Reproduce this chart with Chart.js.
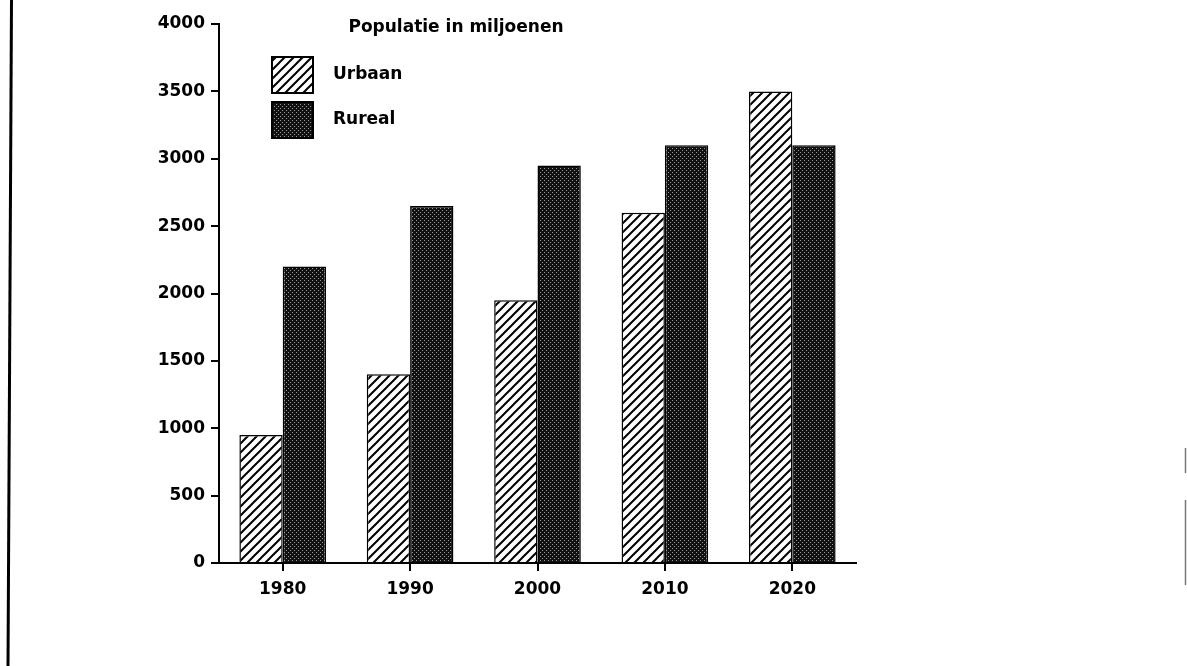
<!DOCTYPE html>
<html>
<head>
<meta charset="utf-8">
<script src="https://cdn.jsdelivr.net/npm/chart.js@4"></script>
<style>
  html, body { margin: 0; padding: 0; background: #fff; }
  #chart { display: block; }
</style>
</head>
<body>
<canvas id="chart" width="1187" height="666"></canvas>
<script>
  'use strict';

  // Data
  var years = ['1980', '1990', '2000', '2010', '2020'];
  var urbaan = [950, 1400, 1950, 2600, 3500];
  var rureal = [2200, 2650, 2950, 3100, 3100];
  var yTicks = [0, 500, 1000, 1500, 2000, 2500, 3000, 3500, 4000];
  var chartTitle = 'Populatie in miljoenen';
  var seriesNames = ['Urbaan', 'Rureal'];

  var FONT = '"DejaVu Sans", "Liberation Sans", Arial, sans-serif';

  // Diagonal hatch fill for the urban bars
  function makeHatch() {
    var c = document.createElement('canvas');
    c.width = 9; c.height = 9;
    var g = c.getContext('2d');
    g.fillStyle = '#fff';
    g.fillRect(0, 0, 9, 9);
    g.strokeStyle = '#000';
    g.lineWidth = 2;
    g.beginPath();
    g.moveTo(0, 9); g.lineTo(9, 0);
    g.moveTo(-2, 2); g.lineTo(2, -2);
    g.moveTo(7, 11); g.lineTo(11, 7);
    g.stroke();
    return g.createPattern(c, 'repeat');
  }

  // Dark stipple fill for the rural bars
  function makeStipple() {
    var c = document.createElement('canvas');
    c.width = 8; c.height = 8;
    var g = c.getContext('2d');
    g.fillStyle = '#111';
    g.fillRect(0, 0, 8, 8);
    g.fillStyle = '#9a9a9a';
    [[0, 0], [4, 0], [2, 2], [6, 2], [0, 4], [4, 4], [2, 6], [6, 6]].forEach(function (p) {
      g.fillRect(p[0], p[1], 1, 1);
    });
    return g.createPattern(c, 'repeat');
  }

  var hatch = makeHatch();
  var stipple = makeStipple();

  // Title, legend and page frame drawn on the canvas
  var decorPlugin = {
    id: 'decor',
    afterDraw: function (chart) {
      var ctx = chart.ctx;
      ctx.save();

      // page frame
      ctx.strokeStyle = '#000';
      ctx.lineWidth = 3;
      ctx.beginPath();
      ctx.moveTo(11.5, 0); ctx.lineTo(8, 666);
      ctx.stroke();
      ctx.strokeStyle = '#777';
      ctx.lineWidth = 1.5;
      ctx.beginPath();
      ctx.moveTo(1185.5, 448); ctx.lineTo(1185.5, 473);
      ctx.moveTo(1185.5, 500); ctx.lineTo(1185.5, 585);
      ctx.stroke();

      // title
      ctx.fillStyle = '#000';
      ctx.font = 'bold 17px ' + FONT;
      ctx.textAlign = 'center';
      ctx.textBaseline = 'middle';
      ctx.fillText(chartTitle, 456, 28);

      // legend
      var boxes = [[272, 57], [272, 102]];
      chart.data.datasets.forEach(function (ds, i) {
        var b = boxes[i];
        ctx.fillStyle = ds.backgroundColor;
        ctx.fillRect(b[0], b[1], 41, 36);
        ctx.strokeStyle = '#000';
        ctx.lineWidth = 2;
        ctx.strokeRect(b[0], b[1], 41, 36);
        ctx.fillStyle = '#000';
        ctx.textAlign = 'left';
        ctx.fillText(ds.label, 333, b[1] + 18);
      });

      ctx.restore();
    }
  };

  var ctx = document.getElementById('chart').getContext('2d');
  new Chart(ctx, {
    type: 'bar',
    data: {
      labels: years,
      datasets: [
        {
          label: seriesNames[0],
          data: urbaan,
          backgroundColor: hatch,
          borderColor: '#000',
          borderWidth: 1.5,
          borderSkipped: 'bottom'
        },
        {
          label: seriesNames[1],
          data: rureal,
          backgroundColor: stipple,
          borderColor: '#000',
          borderWidth: 1.5,
          borderSkipped: 'bottom'
        }
      ]
    },
    options: {
      responsive: false,
      animation: false,
      layout: {
        padding: { left: 149, right: 331, top: 24, bottom: 53 }
      },
      datasets: {
        bar: { categoryPercentage: 0.68, barPercentage: 1.0 }
      },
      plugins: {
        legend: { display: false },
        title: { display: false },
        tooltip: { enabled: false }
      },
      scales: {
        x: {
          afterFit: function (scale) { scale.height = 50; },
          grid: {
            offset: false,
            drawOnChartArea: false,
            drawTicks: true,
            tickLength: 8,
            color: '#000',
            lineWidth: 2
          },
          border: { display: true, color: '#000', width: 2 },
          ticks: {
            color: '#000',
            padding: 8,
            font: { family: FONT, size: 17, weight: 'bold' }
          }
        },
        y: {
          min: 0,
          max: 4000,
          afterFit: function (scale) { scale.width = 70; },
          afterBuildTicks: function (scale) {
            scale.ticks = yTicks.map(function (v) { return { value: v }; });
          },
          grid: {
            drawOnChartArea: false,
            drawTicks: true,
            tickLength: 8,
            color: '#000',
            lineWidth: 2
          },
          border: { display: true, color: '#000', width: 2 },
          ticks: {
            color: '#000',
            padding: 6,
            font: { family: FONT, size: 17, weight: 'bold' },
            callback: function (value) { return String(value); }
          }
        }
      }
    },
    plugins: [decorPlugin]
  });
</script>
</body>
</html>
